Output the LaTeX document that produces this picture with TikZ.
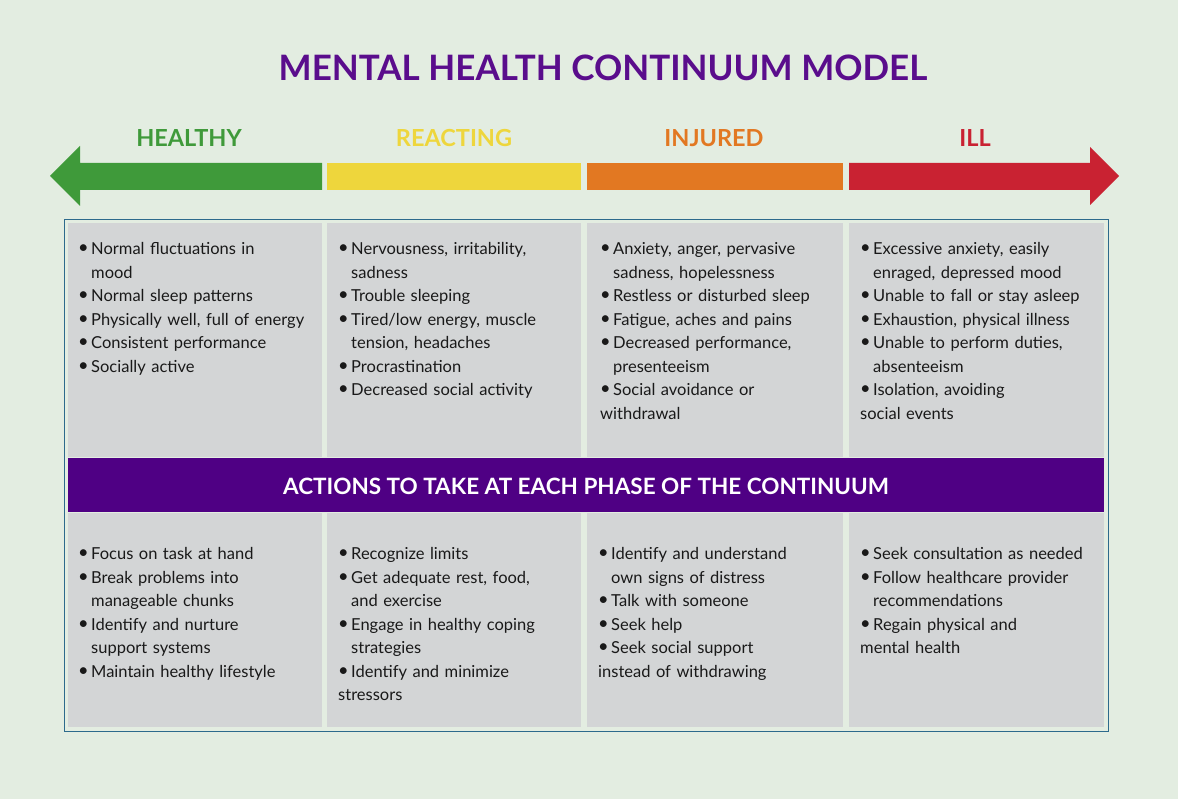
\documentclass[tikz,border=0pt]{standalone}
\usepackage{fontspec}
\setmainfont{Lato}
\definecolor{bg}{HTML}{E3EDE1}
\definecolor{cgreen}{HTML}{3F9A3A}
\definecolor{cyellow}{HTML}{EED63C}
\definecolor{corange}{HTML}{E27822}
\definecolor{cred}{HTML}{C92232}
\definecolor{cpurple}{HTML}{4F0084}
\definecolor{tpurple}{HTML}{5A0D8C}
\definecolor{cgray}{HTML}{D3D5D6}
\definecolor{cborder}{HTML}{2D6A8C}
\hyphenpenalty=10000
\newcommand{\bi}[1]{\par\hangindent=13pt\hangafter=1\noindent\makebox[13pt][l]{\raisebox{1pt}{\scalebox{1.1}{\textbullet}}}#1}
\begin{document}
\begin{tikzpicture}[x=1pt,y=-1pt,
  hdr/.style={font=\fontsize{23.5}{26}\selectfont\bfseries},
  lst/.style={anchor=north west,text width=260pt,inner sep=0pt,align=left,font=\fontsize{16.5}{23.5}\selectfont,text=black!90}]
\useasboundingbox[fill=bg] (0,0) rectangle (1178,799);
\node[font=\fontsize{35}{40}\selectfont\bfseries,text=tpurple] (title) at (603,68) {MENTAL HEALTH CONTINUUM MODEL};
\node[hdr,text=cgreen] (h1) at (189,138) {HEALTHY};
\node[hdr,text=cyellow] (h2) at (454,138) {REACTING};
\node[hdr,text=corange] (h3) at (714,138) {INJURED};
\node[hdr,text=cred] (h4) at (975,138) {ILL};
\fill[cgreen] (50,176) -- (80,146) -- (80,163) -- (322,163) -- (322,190) -- (80,190) -- (80,206) -- cycle;
\fill[cyellow] (327,163) rectangle (581,190);
\fill[corange] (587,163) rectangle (843,190);
\fill[cred] (849,163) -- (1090,163) -- (1090,147) -- (1119,176) -- (1090,205) -- (1090,190) -- (849,190) -- cycle;
\draw[cborder,line width=1pt] (64,220) rectangle (1108,731);
\foreach \a/\b in {68/322,327/581,587/843,849/1104}{
  \fill[cgray] (\a,223) rectangle (\b,457);
  \fill[cgray] (\a,513) rectangle (\b,727);
}
\fill[cpurple] (68,458) rectangle (1104,512);
\node[font=\fontsize{22.5}{26}\selectfont\bfseries,text=white] (band) at (586,486) {ACTIONS TO TAKE AT EACH PHASE OF THE CONTINUUM};
\node[lst] (t1) at (78,231) {\bi{Normal fluctuations in\newline mood}\bi{Normal sleep patterns}\bi{Physically well, full of energy}\bi{Consistent performance}\bi{Socially active}};
\node[lst] (t2) at (338,231) {\bi{Nervousness, irritability,\newline sadness}\bi{Trouble sleeping}\bi{Tired/low energy, muscle\newline tension, headaches}\bi{Procrastination}\bi{Decreased social activity}};
\node[lst] (t3) at (600,231) {\bi{Anxiety, anger, pervasive\newline sadness, hopelessness}\bi{Restless or disturbed sleep}\bi{Fatigue, aches and pains}\bi{Decreased performance,\newline presenteeism}\bi{Social avoidance or\newline withdrawal}};
\node[lst] (t4) at (860,231) {\bi{Excessive anxiety, easily\newline enraged, depressed mood}\bi{Unable to fall or stay asleep}\bi{Exhaustion, physical illness}\bi{Unable to perform duties,\newline absenteeism}\bi{Isolation, avoiding\newline social events}};
\node[lst] (b1) at (78,536) {\bi{Focus on task at hand}\bi{Break problems into\newline manageable chunks}\bi{Identify and nurture\newline support systems}\bi{Maintain healthy lifestyle}};
\node[lst] (b2) at (338,536) {\bi{Recognize limits}\bi{Get adequate rest, food,\newline and exercise}\bi{Engage in healthy coping\newline strategies}\bi{Identify and minimize\newline stressors}};
\node[lst] (b3) at (598,536) {\bi{Identify and understand\newline own signs of distress}\bi{Talk with someone}\bi{Seek help}\bi{Seek social support\newline instead of withdrawing}};
\node[lst] (b4) at (860,536) {\bi{Seek consultation as needed}\bi{Follow healthcare provider\newline recommendations}\bi{Regain physical and\newline mental health}};
\end{tikzpicture}
\end{document}
